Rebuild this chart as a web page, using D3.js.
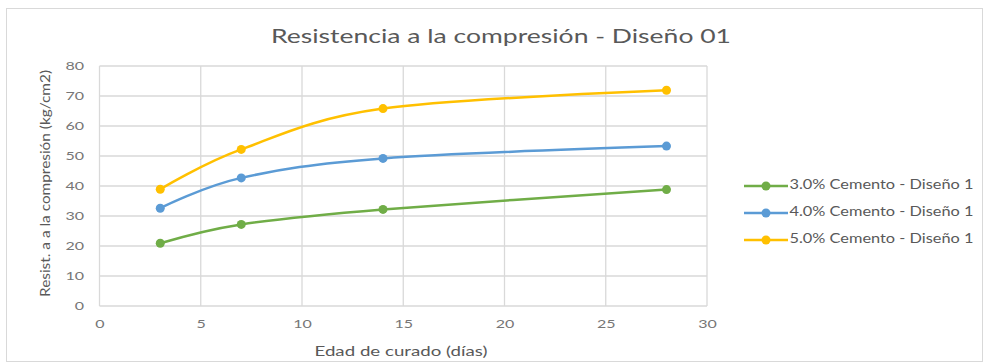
<!DOCTYPE html>
<html>
<head>
<meta charset="utf-8">
<script src="https://cdn.jsdelivr.net/npm/d3@7"></script>
<style>
  html, body { margin: 0; padding: 0; background: #fff; }
  svg { display: block; font-family: Lato, "Open Sans", sans-serif; }
</style>
</head>
<body>
<svg id="chart" width="984" height="363"></svg>
<script>
// Curing age (days) and compressive strength per cement content
const dias = [3, 7, 14, 28];
const cemento3 = [20.9, 27.2, 32.2, 38.8];
const cemento4 = [32.6, 42.7, 49.2, 53.3];
const cemento5 = [38.9, 52.2, 65.8, 71.9];
const seriesNames = ["3.0% Cemento - Diseño 1", "4.0% Cemento - Diseño 1", "5.0% Cemento - Diseño 1"];
const seriesColors = ["#70AD47", "#5B9BD5", "#FFC000"];
const xTicks = [0, 5, 10, 15, 20, 25, 30];
const yTicks = [0, 10, 20, 30, 40, 50, 60, 70, 80];

const series = [cemento3, cemento4, cemento5].map((vals, i) => ({
  name: seriesNames[i],
  color: seriesColors[i],
  points: dias.map((d, j) => ({ x: d, y: vals[j] }))
}));

const svg = d3.select("#chart");
const plot = { left: 99.5, right: 707, top: 66, bottom: 306 };

const x = d3.scaleLinear().domain([0, 30]).range([plot.left, plot.right]);
const y = d3.scaleLinear().domain([0, 80]).range([plot.bottom, plot.top]);

// Wide, Calibri-like lettering: stretch each string to a set length
function fit(sel, len) {
  sel.attr("textLength", len).attr("lengthAdjust", "spacingAndGlyphs");
}

// Chart area border
svg.append("rect")
  .attr("x", 6.5).attr("y", 8.5)
  .attr("width", 976).attr("height", 353)
  .attr("fill", "#fff").attr("stroke", "#d9d9d9").attr("stroke-width", 1);

// Title
svg.append("text")
  .attr("x", 501).attr("y", 43)
  .attr("text-anchor", "middle")
  .attr("font-size", 19)
  .attr("fill", "#595959")
  .text("Resistencia a la compresión - Diseño 01")
  .call(fit, 460);

// Gridlines
const grid = svg.append("g").attr("stroke", "#d9d9d9").attr("stroke-width", 1.3);
grid.selectAll("line.h").data(yTicks).join("line")
  .attr("x1", plot.left).attr("x2", plot.right)
  .attr("y1", d => y(d)).attr("y2", d => y(d));
grid.selectAll("line.v").data(xTicks).join("line")
  .attr("y1", plot.top).attr("y2", plot.bottom)
  .attr("x1", d => x(d)).attr("x2", d => x(d));

// Axes (labels only; lines come from the grid)
const yAxis = svg.append("g")
  .attr("transform", `translate(${plot.left},0)`)
  .call(d3.axisLeft(y).tickValues(yTicks).tickSize(0).tickPadding(15.5));
const xAxis = svg.append("g")
  .attr("transform", `translate(0,${plot.bottom})`)
  .call(d3.axisBottom(x).tickValues(xTicks).tickSize(0).tickPadding(13));
[yAxis, xAxis].forEach(a => {
  a.select(".domain").remove();
  a.selectAll("text")
    .attr("fill", "#767676")
    .attr("font-size", 12)
    .attr("font-family", "Lato, 'Open Sans', sans-serif")
    .each(function () {
      const t = d3.select(this);
      t.call(fit, 9.3 * t.text().length);
    });
});

// Axis titles
svg.append("text")
  .attr("transform", `translate(47,${(plot.top + plot.bottom) / 2 - 2.5}) rotate(-90)`)
  .attr("text-anchor", "middle")
  .attr("dominant-baseline", "middle")
  .attr("font-size", 13)
  .attr("fill", "#595959")
  .text("Resist. a a la compresión (kg/cm2)")
  .call(fit, 227);

svg.append("text")
  .attr("x", 401).attr("y", 356)
  .attr("text-anchor", "middle")
  .attr("font-size", 13.5)
  .attr("fill", "#595959")
  .text("Edad de curado (días)")
  .call(fit, 173);

// Smoothed lines with markers
const line = d3.line()
  .x(d => x(d.x)).y(d => y(d.y))
  .curve(d3.curveCardinal.tension(0));

const g = svg.append("g");
series.forEach(s => {
  g.append("path")
    .datum(s.points)
    .attr("d", line)
    .attr("fill", "none")
    .attr("stroke", s.color)
    .attr("stroke-width", 2.5);
  g.selectAll(null).data(s.points).join("circle")
    .attr("cx", d => x(d.x)).attr("cy", d => y(d.y))
    .attr("r", 4.5)
    .attr("fill", s.color);
});

// Legend
const legend = svg.append("g");
const legendY = [186, 213, 240];
series.forEach((s, i) => {
  const row = legend.append("g").attr("transform", `translate(744,${legendY[i]})`);
  row.append("line").attr("x1", 0).attr("x2", 44).attr("y1", 0).attr("y2", 0)
    .attr("stroke", s.color).attr("stroke-width", 2.5);
  row.append("circle").attr("cx", 22).attr("cy", 0).attr("r", 4.5).attr("fill", s.color);
  row.append("text").attr("x", 45.5).attr("y", 0)
    .attr("dominant-baseline", "middle")
    .attr("font-size", 12.5)
    .attr("fill", "#595959")
    .text(s.name)
    .call(fit, 184);
});
</script>
</body>
</html>
